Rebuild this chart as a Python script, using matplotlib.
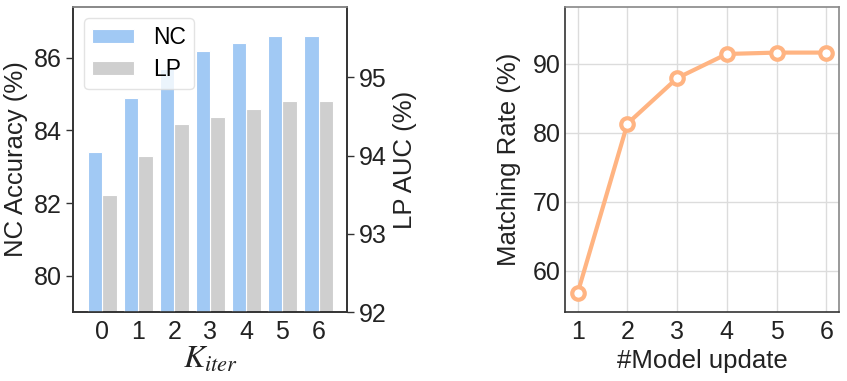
import matplotlib
matplotlib.use("Agg")
import matplotlib.pyplot as plt
import numpy as np

plt.rcParams['font.family'] = ['Liberation Sans', 'DejaVu Sans']
plt.rcParams['mathtext.fontset'] = 'stix'

# Data
k_iter = [0, 1, 2, 3, 4, 5, 6]
nc_acc = [83.4, 84.9, 85.7, 86.2, 86.4, 86.6, 86.6]
lp_auc = [93.5, 94.0, 94.4, 94.5, 94.6, 94.7, 94.7]
model_update = [1, 2, 3, 4, 5, 6]
matching_rate = [56.8, 81.3, 87.9, 91.4, 91.6, 91.6]

nc_color = '#a1c9f4'
lp_color = '#cfcfcf'
line_color = '#ffb482'
dark = '#333333'
light = '#888888'
txt = '#222222'

fig = plt.figure(figsize=(8.47, 3.81), dpi=100)
ax1 = fig.add_axes([0.0866, 0.181, 0.3235, 0.8005])
ax2 = ax1.twinx()
ax3 = fig.add_axes([0.6674, 0.181, 0.3228, 0.8005])

x = np.arange(len(k_iter))
w = 0.4
b1 = ax1.bar(x - w/2, nc_acc, width=w, color=nc_color, edgecolor='white', linewidth=0.8, label='NC')
ax1.set_ylim(79.0, 87.4)
b2 = ax2.bar(x + w/2, lp_auc, width=w, color=lp_color, edgecolor='white', linewidth=0.8, label='LP')
ax2.set_ylim(92.0, 95.9)
ax1.set_xlim(-0.8, 6.8)
ax1.set_xticks(x)
ax1.set_xticklabels([str(k) for k in k_iter])
ax1.set_yticks([80, 82, 84, 86])
ax2.set_yticks([92, 93, 94, 95])
ax1.set_ylabel('NC Accuracy (%)', fontsize=18.5, color=txt, labelpad=4)
ax2.set_ylabel('LP AUC (%)', fontsize=18.5, color=txt, labelpad=4)
ax1.set_xlabel(r'$K_{iter}$', fontsize=23, color=txt, labelpad=0)
ax1.tick_params(axis='y', labelsize=18, length=5, width=1, colors=dark, labelcolor=txt)
ax1.tick_params(axis='x', labelsize=18, length=0, labelcolor=txt, pad=6)
ax2.tick_params(axis='y', labelsize=18, length=5, width=1, colors=dark, labelcolor=txt)
for a in (ax1, ax2):
    for s in a.spines.values():
        s.set_linewidth(1.2)
    a.spines['top'].set_color(light)
    a.spines['left'].set_color(dark)
    a.spines['bottom'].set_color(dark)
    a.spines['right'].set_color(dark)
ax2.set_zorder(1)
ax1.set_zorder(2)
ax1.patch.set_visible(False)
ax2.patch.set_visible(True)
ax2.patch.set_facecolor('white')
leg = ax1.legend([b1, b2], ['NC', 'LP'], loc='upper left', fontsize=16.5,
                 frameon=True, fancybox=True, framealpha=0.8, edgecolor='#dddddd',
                 handlelength=1.85, handleheight=0.6, borderpad=0.35, labelspacing=0.4,
                 handletextpad=0.8, bbox_to_anchor=(0.039, 0.964), borderaxespad=0)

# Right chart
ax3.plot(model_update, matching_rate, color=line_color, linewidth=3, marker='o',
         markersize=9, markerfacecolor='white', markeredgecolor=line_color, markeredgewidth=3, zorder=3)
ax3.set_xlim(0.75, 6.25)
ax3.set_ylim(54, 98.2)
ax3.set_xticks(model_update)
ax3.set_yticks([60, 70, 80, 90])
ax3.grid(True, color='#dcdcdc', linewidth=1)
ax3.set_axisbelow(True)
ax3.tick_params(axis='both', labelsize=18, length=0, labelcolor=txt)
ax3.tick_params(axis='x', pad=6)
ax3.set_xlabel('#Model update', fontsize=18.5, color=txt, labelpad=3)
ax3.set_ylabel('Matching Rate (%)', fontsize=18.5, color=txt, labelpad=8)
for s in ax3.spines.values():
    s.set_linewidth(1.2)
ax3.spines['left'].set_color(dark)
ax3.spines['bottom'].set_color(dark)
ax3.spines['top'].set_color(light)
ax3.spines['right'].set_color(light)

fig.savefig('out.png', dpi=100)
